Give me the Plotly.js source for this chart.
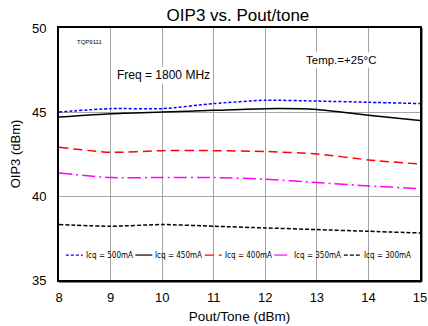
<!DOCTYPE html>
<html>
<head>
<meta charset="utf-8">
<script src="https://cdn.plot.ly/plotly-3.0.1.min.js"></script>
<style>
  html, body { margin: 0; padding: 0; background: #fff; }
  #chart { width: 428px; height: 326px; }
</style>
</head>
<body>
<div id="chart"></div>
<script>
// Output power per tone (dBm)
const poutTone = [8, 9, 10, 11, 12, 13, 14, 15];

// OIP3 (dBm) for each quiescent current setting
const oip3_500mA = [45.0, 45.2, 45.2, 45.5, 45.7, 45.65, 45.58, 45.5];
const oip3_450mA = [44.7, 44.9, 45.0, 45.1, 45.2, 45.15, 44.8, 44.5];
const oip3_400mA = [42.9, 42.6, 42.7, 42.7, 42.65, 42.5, 42.15, 41.9];
const oip3_350mA = [41.37, 41.1, 41.1, 41.1, 41.0, 40.8, 40.6, 40.43];
const oip3_300mA = [38.3, 38.2, 38.3, 38.2, 38.1, 38.0, 37.9, 37.8];

const seriesNames = ['Icq = 500mA', 'Icq = 450mA', 'Icq = 400mA', 'Icq = 350mA', 'Icq = 300mA'];
const seriesValues = [oip3_500mA, oip3_450mA, oip3_400mA, oip3_350mA, oip3_300mA];
const seriesColors = ['#0000ff', '#000000', '#ff0000', '#ff00ff', '#000000'];
const seriesDash = ['3px,2px', 'solid', '9px,5px', '13px,4px,2px,4px', '4px,2px'];

const xTicks = [8, 9, 10, 11, 12, 13, 14, 15];
const yTicks = [35, 40, 45, 50];

const traces = seriesValues.map((vals, i) => ({
  x: poutTone,
  y: vals,
  name: seriesNames[i],
  type: 'scatter',
  mode: 'lines',
  showlegend: false,
  line: { color: seriesColors[i], width: 1.5, dash: seriesDash[i], shape: 'spline', smoothing: 0.6 }
}));

// Compact in-plot legend row: short line sample followed by the series name
const legendY = 0.099;
const legendX0 = 0.019;      // left edge of first sample (axis-domain fraction)
const legendStep = 0.1925;   // spacing between entries
const sampleLen = 0.047;

const shapes = [
  // white box behind the legend row, covering the grid
  {
    type: 'rect', xref: 'x domain', yref: 'y domain',
    x0: 0.008, x1: 0.97, y0: 0.056, y1: 0.125,
    fillcolor: '#ffffff', line: { width: 0 }, layer: 'below'
  },
  // heavier right/bottom frame edge
  {
    type: 'line', xref: 'x domain', yref: 'y domain',
    x0: 1.004, x1: 1.004, y0: -0.006, y1: 1,
    line: { color: '#000', width: 2 }
  },
  {
    type: 'line', xref: 'x domain', yref: 'y domain',
    x0: 0, x1: 1.004, y0: -0.006, y1: -0.006,
    line: { color: '#000', width: 2 }
  }
];
const annotations = [
  {
    text: 'TQP9111', xref: 'paper', yref: 'paper',
    x: 0.044, y: 0.944, xanchor: 'left', yanchor: 'middle',
    showarrow: false, font: { size: 6 }
  },
  {
    text: 'Freq = 1800 MHz', xref: 'paper', yref: 'paper',
    x: 0.29, y: 0.813, xanchor: 'center', yanchor: 'middle',
    showarrow: false, bgcolor: '#ffffff', font: { size: 12 }
  },
  {
    text: 'Temp.=+25°C', xref: 'paper', yref: 'paper',
    x: 0.78, y: 0.873, xanchor: 'center', yanchor: 'middle',
    showarrow: false, bgcolor: '#ffffff', font: { size: 11.5 }
  }
];

seriesNames.forEach((name, i) => {
  const sx = legendX0 + i * legendStep;
  shapes.push({
    type: 'line', xref: 'x domain', yref: 'y domain',
    x0: sx, x1: sx + sampleLen, y0: legendY, y1: legendY,
    line: { color: seriesColors[i], width: 1.2, dash: seriesDash[i] }
  });
  annotations.push({
    text: name, xref: 'x domain', yref: 'y domain',
    x: sx + sampleLen + 0.002, y: legendY, xanchor: 'left', yanchor: 'middle',
    showarrow: false,
    font: { size: 8, family: 'Liberation Sans Narrow, DejaVu Sans Condensed, sans-serif' }
  });
});

const layout = {
  width: 428,
  height: 326,
  margin: { l: 59, r: 8, t: 28, b: 46 },
  paper_bgcolor: '#ffffff',
  plot_bgcolor: '#ffffff',
  font: { family: 'Liberation Sans, Arial, sans-serif', color: '#000' },
  title: {
    text: 'OIP3 vs. Pout/tone',
    font: { size: 17, color: '#000' },
    x: 0.556, xanchor: 'center',
    y: 0.955, yanchor: 'middle'
  },
  xaxis: {
    range: [8, 15],
    tickvals: xTicks,
    ticktext: xTicks.map(String),
    ticks: '',
    ticklabelstandoff: 4,
    showgrid: true,
    gridcolor: '#a6a6a6',
    gridwidth: 1,
    zeroline: false,
    showline: true,
    linecolor: '#000',
    linewidth: 2,
    mirror: true,
    tickfont: { size: 13 },
    title: { text: 'Pout/Tone (dBm)', font: { size: 13.5 }, standoff: 8 }
  },
  yaxis: {
    range: [35, 50],
    tickvals: yTicks,
    ticktext: yTicks.map(String),
    ticks: '',
    ticklabelstandoff: 8,
    showgrid: true,
    gridcolor: '#a6a6a6',
    gridwidth: 1,
    zeroline: false,
    showline: true,
    linecolor: '#000',
    linewidth: 2,
    mirror: true,
    tickfont: { size: 13 },
    title: { text: 'OIP3 (dBm)', font: { size: 13 }, standoff: 8 }
  },
  shapes: shapes,
  annotations: annotations,
  showlegend: false
};

Plotly.newPlot('chart', traces, layout, { displayModeBar: false, staticPlot: true });
</script>
</body>
</html>
